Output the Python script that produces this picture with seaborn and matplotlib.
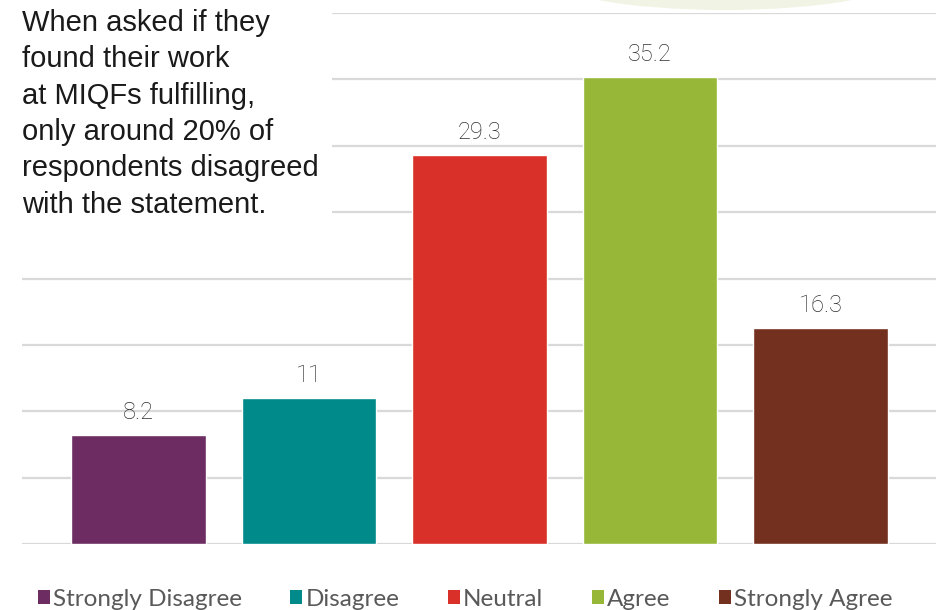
import matplotlib
matplotlib.use("Agg")
import matplotlib.pyplot as plt
from matplotlib.patches import Ellipse, Patch, Rectangle
import seaborn as sns
import pandas as pd

categories = ["Strongly Disagree", "Disagree", "Neutral", "Agree", "Strongly Agree"]
values = [8.2, 11, 29.3, 35.2, 16.3]
colors = ["#6d2d63", "#008a8a", "#d93029", "#97b739", "#73301e"]
grid_ticks = [0, 5, 10, 15, 20, 25, 30, 35, 40]
note = ("When asked if they\nfound their work\nat MIQFs fulfilling,\n"
        "only around 20% of\nrespondents disagreed\nwith the statement.")

sns.set_theme(style="white")
df = pd.DataFrame({"response": categories, "pct": values})

W, H = 940, 610
fig = plt.figure(figsize=(W / 100, H / 100), dpi=100)
fig.patch.set_facecolor("white")

# faint decorative shape peeking in at the top edge
fig.patches.append(Ellipse((725 / W, 1 + 22 / H), 350 / W, 64 / H,
                           transform=fig.transFigure, facecolor="#f1f4e4",
                           edgecolor="none", zorder=-1))

ax = fig.add_axes([22 / W, 66 / H, 914 / W, 531 / H])
ax.set_facecolor("none")

sns.barplot(data=df, x="response", y="pct", hue="response", palette=colors,
            width=0.79, dodge=False, legend=False, saturation=1, ax=ax, zorder=3)

ax.set_xlim(-0.683, 4.677)
ax.set_ylim(0, 40)
for t in grid_ticks:
    ax.axhline(t, color="#d9d9d9", lw=1.6, zorder=1)
for s in ax.spines.values():
    s.set_visible(False)
ax.set_xticks([])
ax.set_yticks([])
ax.set_xlabel("")
ax.set_ylabel("")

for i, v in enumerate(values):
    ax.annotate(f"{v:g}", (i, v), xytext=(0, 11.5), textcoords="offset points",
                ha="center", va="baseline", fontsize=17, color="#2e2e2e",
                family="Roboto", fontweight="light", zorder=4)

# white text box with the commentary, covering the grid behind it
fig.patches.append(Rectangle((0, 1 - 215 / H), 332 / W, 215 / H,
                             transform=fig.transFigure, facecolor="white",
                             edgecolor="none", zorder=5))
fig.text(22 / W, 1 - 9 / H, note, ha="left", va="top", fontsize=21,
         family="Liberation Sans", color="#1a1a1a", linespacing=1.38, zorder=6)

handles = [Patch(facecolor=c, edgecolor="none") for c in colors]
leg = fig.legend(handles, categories, loc="center", ncol=5,
                 bbox_to_anchor=(465 / W, 11 / H), frameon=False,
                 prop={"family": "Lato", "size": 17.5},
                 handlelength=0.5, handleheight=0.55, handletextpad=0.12,
                 columnspacing=2.0, borderaxespad=0)
for t in leg.get_texts():
    t.set_color("#595959")

fig.savefig("out.png", dpi=100, facecolor="white")
